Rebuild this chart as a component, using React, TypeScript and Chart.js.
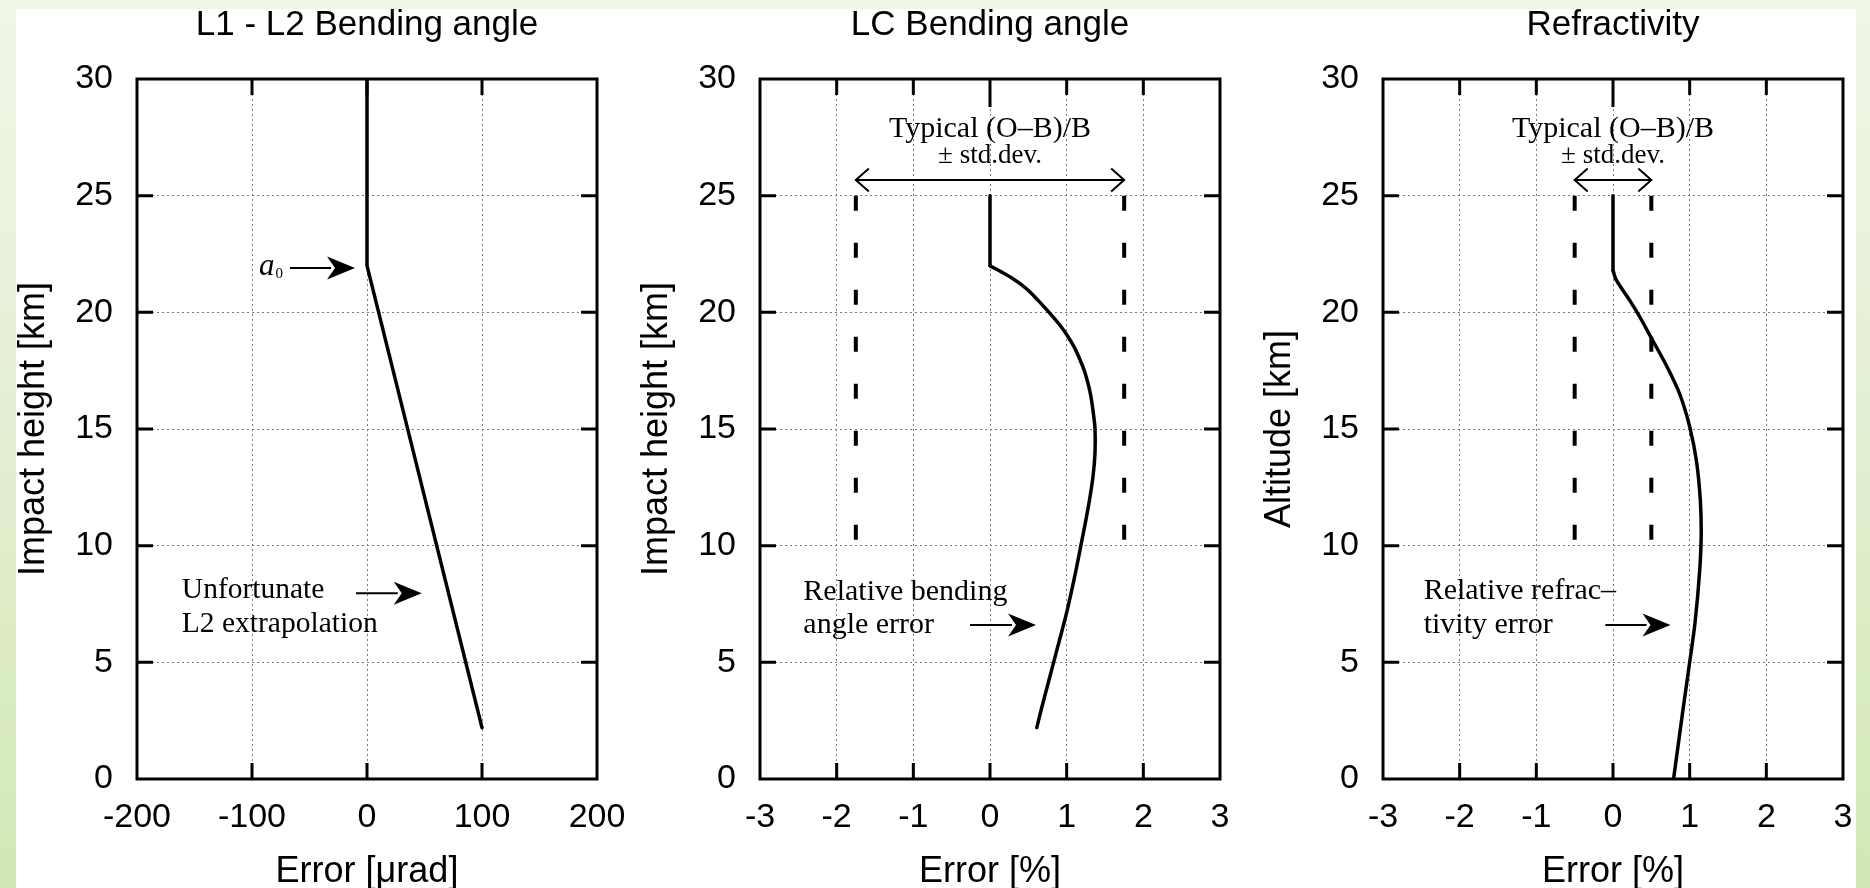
import React, { useEffect, useRef } from 'react';
import { Chart, registerables } from 'chart.js';

Chart.register(...registerables);

// ---------- text ----------
const panelTitles = ['L1 - L2 Bending angle', 'LC Bending angle', 'Refractivity'];
const xAxisTitles = ['Error [μrad]', 'Error [%]', 'Error [%]'];
const yAxisTitles = ['Impact height [km]', 'Impact height [km]', 'Altitude [km]'];

// ---------- ticks ----------
const heightTicks = [0, 5, 10, 15, 20, 25, 30];
const microradTicks = [-200, -100, 0, 100, 200];
const percentTicks = [-3, -2, -1, 0, 1, 2, 3];

// ---------- panel 1 : L1 - L2 bending angle ----------
const l1l2Height = [30, 22, 2.2];
const l1l2Error = [0, 0, 100];

// ---------- panel 2 : LC bending angle ----------
const lcTopHeight = [25, 22];
const lcTopError = [0, 0];
const lcHeight = [22, 21.5, 21, 20.5, 20, 19.5, 19, 18.5, 18, 17.5, 17, 16.5, 16, 15.5, 15, 14, 13, 12, 11, 10, 9, 8, 7, 6, 5, 4, 3, 2.2];
const lcError = [0, 0.27, 0.48, 0.63, 0.77, 0.9, 1.01, 1.1, 1.17, 1.23, 1.275, 1.31, 1.335, 1.355, 1.37, 1.37, 1.345, 1.3, 1.245, 1.185, 1.125, 1.06, 0.99, 0.91, 0.83, 0.75, 0.67, 0.61];
const lcStdDev = [-1.75, 1.75];
const lcStdDevHeights = [25, 10];

// ---------- panel 3 : refractivity ----------
const refTopAlt = [25, 21.8];
const refTopError = [0, 0];
const refAlt = [21.8, 21.4, 20.5, 19.8, 18.9, 17.7, 16.5, 15.1, 13.6, 11.9, 10.4, 8.9, 6.7, 5.0, 2.9, 0];
const refError = [0, 0.04, 0.22, 0.35, 0.5, 0.7, 0.87, 1.0, 1.09, 1.14, 1.15, 1.13, 1.07, 1.0, 0.91, 0.79];
const refStdDev = [-0.5, 0.5];
const refStdDevHeights = [25, 10];

// ---------- helpers ----------
const SANS = '"Liberation Sans", Arial, Helvetica, sans-serif';
const SERIF = '"Liberation Serif", "Times New Roman", serif';

const pts = (xs: number[], ys: number[]) => xs.map((x, i) => ({ x, y: ys[i] }));

function solid(xs: number[], ys: number[], tension = 0) {
  return {
    data: pts(xs, ys),
    showLine: true,
    borderColor: '#000',
    borderWidth: 3.5,
    pointRadius: 0,
    tension,
    fill: false,
    borderCapStyle: 'round',
    borderJoinStyle: 'round',
  };
}

function dashed(x: number, ys: number[]) {
  return {
    data: ys.map((y) => ({ x, y })),
    showLine: true,
    borderColor: '#000',
    borderWidth: 4,
    borderDash: [15, 32],
    borderCapStyle: 'butt',
    pointRadius: 0,
    fill: false,
  };
}

type Txt = { x: number; y: number; lines: string[]; size: number; align: CanvasTextAlign };
type Arr = { x1: number; x2: number; y: number; kind: 'filled' | 'double' };
type PanelCfg = {
  idx: number;
  xMin: number;
  xMax: number;
  xTicks: number[];
  datasets: any[];
  texts: Txt[];
  arrows: Arr[];
  a0?: { x: number; y: number };
  longZeroTick?: boolean;
};

const panels: PanelCfg[] = [
  {
    idx: 0,
    xMin: -200,
    xMax: 200,
    xTicks: microradTicks,
    datasets: [solid(l1l2Error, l1l2Height)],
    texts: [{ x: -161, y: 7.74, lines: ['Unfortunate', 'L2 extrapolation'], size: 29.5, align: 'left' }],
    arrows: [
      { x1: -67, x2: -10.4, y: 21.9, kind: 'filled' },
      { x1: -9.6, x2: 47.6, y: 7.96, kind: 'filled' },
    ],
    a0: { x: -93.9, y: 21.6 },
  },
  {
    idx: 1,
    xMin: -3,
    xMax: 3,
    xTicks: percentTicks,
    datasets: [
      dashed(lcStdDev[0], lcStdDevHeights),
      dashed(lcStdDev[1], lcStdDevHeights),
      solid(lcTopError, lcTopHeight),
      solid(lcError, lcHeight, 0.3),
    ],
    texts: [
      { x: 0, y: 27.5, lines: ['Typical (O–B)/B'], size: 30, align: 'center' },
      { x: 0, y: 26.39, lines: ['± std.dev.'], size: 27, align: 'center' },
      { x: -2.435, y: 7.67, lines: ['Relative bending', 'angle error'], size: 30, align: 'left' },
    ],
    arrows: [
      { x1: lcStdDev[0], x2: lcStdDev[1], y: 25.67, kind: 'double' },
      { x1: -0.26, x2: 0.6, y: 6.6, kind: 'filled' },
    ],
    longZeroTick: true,
  },
  {
    idx: 2,
    xMin: -3,
    xMax: 3,
    xTicks: percentTicks,
    datasets: [
      dashed(refStdDev[0], refStdDevHeights),
      dashed(refStdDev[1], refStdDevHeights),
      solid(refTopError, refTopAlt),
      solid(refError, refAlt, 0.3),
    ],
    texts: [
      { x: 0, y: 27.5, lines: ['Typical (O–B)/B'], size: 30, align: 'center' },
      { x: 0, y: 26.39, lines: ['± std.dev.'], size: 27, align: 'center' },
      { x: -2.47, y: 7.71, lines: ['Relative refrac–', 'tivity error'], size: 30, align: 'left' },
    ],
    arrows: [
      { x1: refStdDev[0], x2: refStdDev[1], y: 25.67, kind: 'double' },
      { x1: -0.1, x2: 0.75, y: 6.6, kind: 'filled' },
    ],
    longZeroTick: true,
  },
];

function makeDecor(p: PanelCfg) {
  return {
    id: 'decor' + p.idx,
    afterDatasetsDraw(chart: any) {
      const { ctx, chartArea: ca } = chart;
      const xs = chart.scales.x;
      const ys = chart.scales.y;
      ctx.save();

      // inward tick marks on all four sides
      ctx.strokeStyle = '#000';
      ctx.lineWidth = 3;
      ctx.lineCap = 'butt';
      ctx.beginPath();
      const TL = 16;
      for (const v of p.xTicks) {
        const px = xs.getPixelForValue(v);
        if (Math.abs(px - ca.left) < 2 || Math.abs(px - ca.right) < 2) continue;
        ctx.moveTo(px, ca.bottom);
        ctx.lineTo(px, ca.bottom - TL);
        ctx.moveTo(px, ca.top);
        ctx.lineTo(px, ca.top + (p.longZeroTick && v === 0 ? 28 : TL));
      }
      for (const v of heightTicks) {
        const py = ys.getPixelForValue(v);
        if (Math.abs(py - ca.top) < 2 || Math.abs(py - ca.bottom) < 2) continue;
        ctx.moveTo(ca.left, py);
        ctx.lineTo(ca.left + TL, py);
        ctx.moveTo(ca.right, py);
        ctx.lineTo(ca.right - TL, py);
      }
      ctx.stroke();

      // frame
      ctx.lineWidth = 3;
      ctx.strokeRect(ca.left, ca.top, ca.right - ca.left, ca.bottom - ca.top);

      // panel title
      ctx.fillStyle = '#000';
      ctx.font = `35px ${SANS}`;
      ctx.textAlign = 'center';
      ctx.textBaseline = 'alphabetic';
      ctx.fillText(panelTitles[p.idx], (ca.left + ca.right) / 2, 35);

      // annotation texts
      for (const t of p.texts) {
        ctx.font = `${t.size}px ${SERIF}`;
        ctx.textAlign = t.align;
        const px = xs.getPixelForValue(t.x);
        const py = ys.getPixelForValue(t.y);
        t.lines.forEach((line, i) => ctx.fillText(line, px, py + i * 33.4));
      }

      // a0 label
      if (p.a0) {
        const px = xs.getPixelForValue(p.a0.x);
        const py = ys.getPixelForValue(p.a0.y);
        ctx.textAlign = 'left';
        ctx.font = `italic 31px ${SERIF}`;
        ctx.fillText('a', px, py);
        const w = ctx.measureText('a').width;
        ctx.font = `15px ${SERIF}`;
        ctx.fillText('0', px + w + 1, py + 3);
      }

      // arrows
      for (const a of p.arrows) {
        const x1 = xs.getPixelForValue(a.x1);
        const x2 = xs.getPixelForValue(a.x2);
        const y = ys.getPixelForValue(a.y);
        ctx.lineWidth = 2;
        ctx.strokeStyle = '#000';
        if (a.kind === 'filled') {
          const HL = 28;
          const HW = 11.5;
          ctx.beginPath();
          ctx.moveTo(x1, y);
          ctx.lineTo(x2 - HL + 4, y);
          ctx.stroke();
          ctx.beginPath();
          ctx.moveTo(x2, y);
          ctx.lineTo(x2 - HL, y - HW);
          ctx.lineTo(x2 - HL + 8, y);
          ctx.lineTo(x2 - HL, y + HW);
          ctx.closePath();
          ctx.fill();
        } else {
          const HL = 13;
          const HW = 11.5;
          ctx.beginPath();
          ctx.moveTo(x1, y);
          ctx.lineTo(x2, y);
          ctx.moveTo(x1 + HL, y - HW);
          ctx.lineTo(x1, y);
          ctx.lineTo(x1 + HL, y + HW);
          ctx.moveTo(x2 - HL, y - HW);
          ctx.lineTo(x2, y);
          ctx.lineTo(x2 - HL, y + HW);
          ctx.stroke();
        }
      }
      ctx.restore();
    },
  };
}

function buildConfig(p: PanelCfg): any {
  const gridOpts = { color: '#7a7a7a', lineWidth: 1, drawTicks: false };
  const borderOpts = { display: false, dash: [2, 3] };
  return {
    type: 'scatter',
    data: { datasets: p.datasets },
    plugins: [makeDecor(p)],
    options: {
      animation: false,
      responsive: false,
      devicePixelRatio: 1,
      events: [],
      layout: { padding: { top: 79, right: 63, bottom: 0, left: 0 } },
      plugins: { legend: { display: false }, tooltip: { enabled: false }, title: { display: false } },
      scales: {
        x: {
          type: 'linear',
          min: p.xMin,
          max: p.xMax,
          afterBuildTicks: (s: any) => {
            s.ticks = p.xTicks.map((v) => ({ value: v }));
          },
          afterFit: (s: any) => {
            s.height = 109;
          },
          grid: gridOpts,
          border: borderOpts,
          ticks: {
            color: '#000',
            font: { family: SANS, size: 34 },
            padding: 18,
            maxRotation: 0,
            autoSkip: false,
            callback: (v: any) => String(v),
          },
          title: {
            display: true,
            text: xAxisTitles[p.idx],
            color: '#000',
            font: { family: SANS, size: 36, lineHeight: 0.9 },
            padding: { top: 0, bottom: 0 },
          },
        },
        y: {
          type: 'linear',
          min: 0,
          max: 30,
          afterBuildTicks: (s: any) => {
            s.ticks = heightTicks.map((v) => ({ value: v }));
          },
          afterFit: (s: any) => {
            s.width = 137;
          },
          grid: gridOpts,
          border: borderOpts,
          ticks: {
            color: '#000',
            font: { family: SANS, size: 34 },
            padding: 24,
            autoSkip: false,
            callback: (v: any) => String(v),
          },
          title: {
            display: true,
            text: yAxisTitles[p.idx],
            color: '#000',
            font: { family: SANS, size: 36, lineHeight: 1 },
            padding: { top: 16, bottom: 0 },
          },
        },
      },
    },
  };
}

function PanelChart({ cfg, left }: { cfg: PanelCfg; left: number }) {
  const ref = useRef<HTMLCanvasElement>(null);
  useEffect(() => {
    const chart = new Chart(ref.current as HTMLCanvasElement, buildConfig(cfg));
    return () => chart.destroy();
  }, [cfg]);
  return (
    <canvas
      ref={ref}
      width={660}
      height={888}
      style={{ position: 'absolute', left, top: 0, width: 660, height: 888 }}
    />
  );
}

const GREEN = 'linear-gradient(to bottom, #f0f6e8 0%, #e4f0d4 45%, #d2e8b3 100%)';

export default function App() {
  return (
    <div
      style={{
        position: 'fixed',
        left: 0,
        top: 0,
        width: 1870,
        height: 888,
        overflow: 'hidden',
        background: GREEN,
      }}
    >
      <div style={{ position: 'absolute', left: 16, top: 9, width: 1840, height: 879, background: '#fff' }} />
      {panels.map((p) => (
        <PanelChart key={p.idx} cfg={p} left={623 * p.idx} />
      ))}
      <div style={{ position: 'absolute', left: 1856, top: 0, width: 14, height: 888, background: GREEN }} />
    </div>
  );
}
